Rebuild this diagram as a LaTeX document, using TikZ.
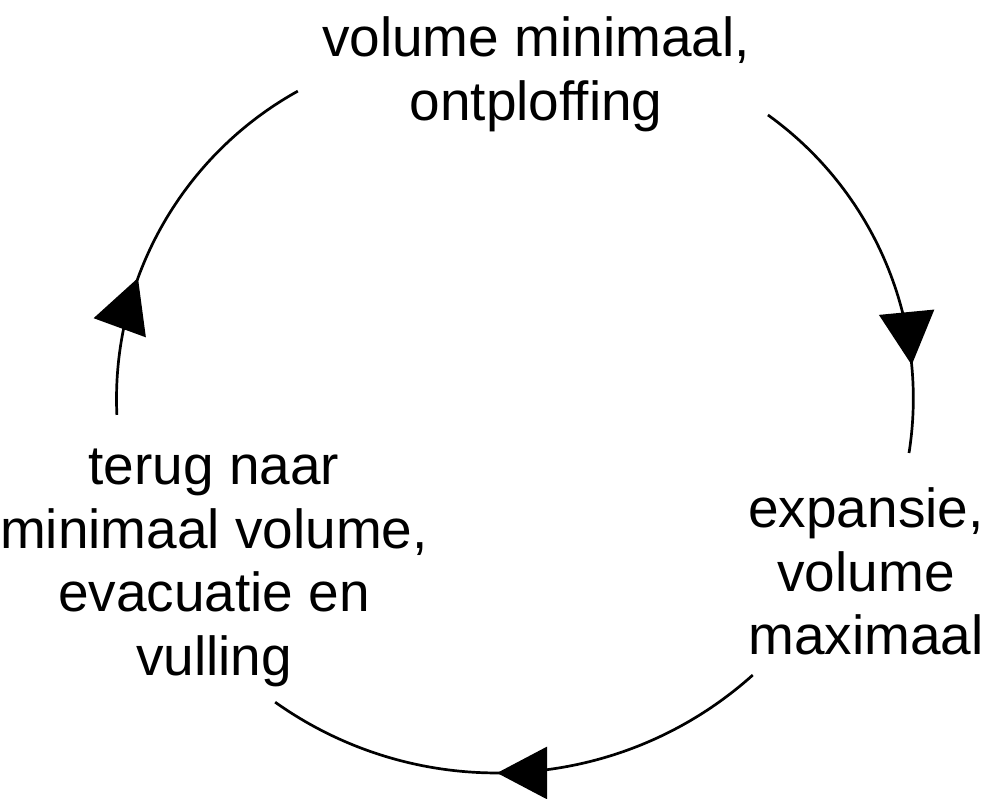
\documentclass[tikz,border=0pt]{standalone}
\usepackage{fontspec}
\newfontfamily\lblfont{Liberation Sans}
\usetikzlibrary{arrows.meta,decorations.markings}
\tikzset{
  label/.style={align=center, inner sep=0pt, anchor=base, font={\lblfont\fontsize{55}{63.5}\selectfont}},
  cycarc/.style={line width=2.7pt, black},
  midarrow/.style args={#1/#2/#3}{postaction={decorate, decoration={markings,
      mark=at position #1 with {\arrow{Triangle[length=#2pt,width=#3pt]}}}}}
}
\begin{document}
\begin{tikzpicture}[x=1pt,y=1pt]
\useasboundingbox (0,0) rectangle (985,798);
% labels (anchored at the baseline of their last line)
\node[label] (top) at (536,677.5) {volume minimaal,\\ontploffing};
\node[label] (right) at (866,143) {expansie,\\volume\\maximaal};
\node[label] (left) at (214,122.5) {terug naar\\minimaal volume,\\evacuatie en\\vulling};
% arc centres
\coordinate (cTL) at (468.5,399);
\coordinate (cTR) at (564.3,399.6);
\coordinate (cB) at (497,408);
% arcs
\draw[cycarc, midarrow=0.357/53/55] ([shift={(182.6:352)}]cTL) arc[start angle=182.6, end angle=119.0, radius=352];
\draw[cycarc, midarrow=0.771/53/55] ([shift={(54.3:349)}]cTR) arc[start angle=54.3, end angle=-9.0, radius=349];
\draw[cycarc, midarrow=0.542/50/52] ([shift={(-48.1:383)}]cB) arc[start angle=-48.1, end angle=-125.4, radius=383];
\end{tikzpicture}
\end{document}
